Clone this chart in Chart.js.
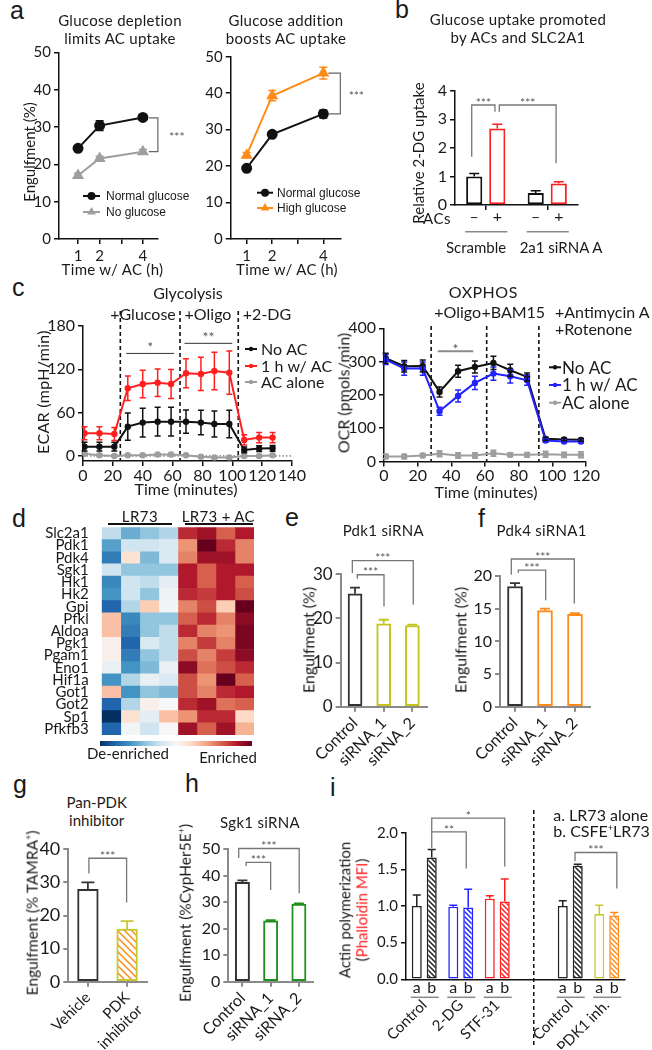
<!DOCTYPE html>
<html>
<head>
<meta charset="utf-8">
<script src="https://cdn.jsdelivr.net/npm/chart.js@4.4.1/dist/chart.umd.min.js"></script>
<style>
  body { margin: 0; background: #fff; }
  #fig { position: relative; width: 652px; height: 1050px; overflow: hidden; background: #fff;
         font-family: Lato, 'Open Sans', sans-serif; color: #1a1a1a; }
  #fig canvas { position: absolute; }
  .t { position: absolute; white-space: nowrap; line-height: 1.2; z-index: 2; }
  .ln { position: absolute; z-index: 2; }
</style>
</head>
<body>
<div id="fig"></div>
<script>
// ---------- data ----------
// a: engulfment time course
const aTimes = [1, 2, 4];
const aTicks = [1, 2, 3, 4];
const aTickLabels = ['1', '2', '', '4'];
const aYTicks = [0, 10, 20, 30, 40, 50];
const aDeplNormal = [24.3, 30.4, 32.6];
const aDeplNormalErr = [0.6, 1.3, 0.5];
const aDeplNone = [17.0, 21.6, 23.4];
const aDeplNoneErr = [0.6, 0.6, 0.6];
const aAddNormal = [19.4, 28.7, 34.3];
const aAddNormalErr = [0.5, 0.6, 1.1];
const aAddHigh = [23.0, 39.3, 45.5];
const aAddHighErr = [0.7, 1.4, 1.6];

// b: 2-DG uptake
const bGroups = ['Scramble', '2a1 siRNA A'];
const bYTicks = [0, 1, 2, 3, 4];
const bNoAC = [1.0, 0.42];
const bNoACErr = [0.1, 0.08];
const bWithAC = [2.68, 0.75];
const bWithACErr = [0.15, 0.06];
const bSigns = ['–', '+'];

// c: seahorse traces
const cEcarTime = [1, 11, 21, 30, 40, 50, 59, 69, 79, 88, 98, 108, 118, 127];
const cEcarNoAC = [12.9, 12.9, 12.9, 40.6, 46.2, 47.5, 47.5, 47.5, 46.2, 44.3, 44.3, 8.3, 10.2, 10.6];
const cEcarNoACErr = [6, 6, 6, 19, 20, 20, 20, 16, 17, 18, 19, 4, 4, 4];
const cEcarAC1h = [31.4, 31.4, 30.5, 93.8, 99.7, 101.5, 99.7, 114.5, 113.6, 117.7, 115.4, 22.2, 25.4, 25.4];
const cEcarAC1hErr = [9, 9, 9, 17, 19, 19, 20, 20, 23, 26, 30, 7, 7, 7];
const cEcarACalone = [3, 1, 0, 1, 1, 2, 2, 1, -1, -2, -2, 0, 0, 1];
const cEcarACaloneErr = [1.5, 1.5, 1.5, 1.5, 1.5, 1.5, 1.5, 1.5, 1.5, 1.5, 1.5, 1.5, 1.5, 1.5];
const cEcarInject = [25, 65, 104];
const cEcarXTicks = [0, 20, 40, 60, 80, 100, 120, 140];
const cEcarYTicks = [0, 60, 120, 180];

const cOcrTime = [1, 12, 23, 33, 44, 54, 65, 75, 85, 96, 107, 117];
const cOcrNoAC = [310, 286, 287, 209, 271, 284, 296, 274, 254, 68, 66, 65];
const cOcrNoACErr = [15, 17, 18, 15, 18, 18, 20, 18, 12, 5, 4, 4];
const cOcrAC1h = [306, 279, 279, 151, 197, 236, 264, 256, 244, 63, 60, 60];
const cOcrAC1hErr = [15, 20, 20, 12, 18, 20, 20, 20, 15, 5, 4, 4];
const cOcrACalone = [15, 15, 18, 23, 18, 18, 25, 20, 20, 22, 20, 20];
const cOcrACaloneErr = [7, 7, 6, 9, 8, 8, 9, 6, 7, 9, 8, 9];
const cOcrInject = [28, 61, 92];
const cOcrXTicks = [0, 20, 40, 60, 80, 100, 120];
const cOcrYTicks = [0, 100, 200, 300, 400];

// d: heatmap (z-scores, columns = replicates)
const dGenes = ['Slc2a1', 'Pdk1', 'Pdk4', 'Sgk1', 'Hk1', 'Hk2', 'Gpi', 'Pfkl', 'Aldoa', 'Pgk1',
                'Pgam1', 'Eno1', 'Hif1a', 'Got1', 'Got2', 'Sp1', 'Pfkfb3'];
const dLR73 = [
  [-0.5, -1.0, -0.8, -0.6], [-1.1, -0.4, -0.4, -0.3], [-1.4, 0.3, -0.9, -0.3], [-0.4, -0.8, -0.8, -0.8],
  [-1.3, -0.4, -0.5, -0.2], [-1.2, -0.4, -0.8, -0.1], [-1.6, -0.6, 0.5, -0.05], [0.6, -1.3, -0.8, -0.8],
  [0.6, -1.4, -0.8, -0.5], [0.1, -1.6, -0.3, -0.5], [0.1, -1.4, -0.8, -0.5], [-0.15, -1.2, -0.9, -0.15],
  [-1.2, -0.6, -0.15, -0.3], [0.6, -1.2, -0.8, -0.9], [-1.6, -0.6, 0.1, 0.0], [-2.0, 0.3, -0.2, 0.6],
  [-1.6, -0.05, -0.4, 0.0]
];
const dLR73AC = [
  [1.5, 1.7, 1.2, 1.6], [0.9, 2.0, 1.5, 1.0], [1.0, 1.7, 1.7, 1.0], [1.6, 1.2, 1.6, 1.6],
  [1.6, 1.2, 1.6, 1.2], [1.5, 1.4, 1.6, 1.3], [1.0, 1.3, 0.5, 2.0], [1.2, 1.5, 1.0, 1.8],
  [1.5, 1.0, 0.9, 1.9], [1.0, 1.4, 1.0, 1.9], [1.3, 1.0, 1.4, 1.8], [1.8, 1.1, 1.3, 1.5],
  [1.3, 0.9, 2.0, 1.2], [1.3, 1.0, 1.5, 1.6], [1.5, 1.7, 1.1, 1.2], [0.9, 1.5, 1.5, 0.4],
  [1.7, 1.2, 1.7, 0.7]
];

// e, f, h: siRNA knockdowns
const siCats = ['Control', 'siRNA_1', 'siRNA_2'];
const eVals = [25.6, 18.8, 18.4];
const eErr = [1.4, 0.9, 0.2];
const eYTicks = [0, 10, 20, 30];
const fVals = [18.4, 14.7, 14.15];
const fErr = [0.5, 0.3, 0.15];
const fYTicks = [0, 5, 10, 15, 20];
const hVals = [37.5, 23.0, 29.3];
const hErr = [0.8, 0.2, 0.3];
const hYTicks = [0, 10, 20, 30, 40, 50];

// g: pan-PDK inhibitor
const gCats = ['Vehicle', ['PDK', 'inhibitor']];
const gVals = [27.9, 15.9];
const gErr = [2.1, 2.4];
const gYTicks = [0, 10, 20, 30, 40];

// i: actin polymerization
const iCats = ['Control', '2-DG', 'STF-31', '', 'Control', 'PDK1 inh.'];
const iAlone = [1.0, 0.99, 1.10, null, 1.0, 0.89];
const iAloneErr = [0.15, 0.02, 0.04, null, 0.07, 0.12];
const iWithAC = [1.66, 0.98, 1.06, null, 1.55, 0.87];
const iWithACErr = [0.11, 0.25, 0.31, null, 0.02, 0.04];
const iYTicks = [0, 0.5, 1.0, 1.5, 2.0];
const iSubs = ['a', 'b'];

// ---------- style ----------
const FONT = "Lato, 'Open Sans', sans-serif";
const NARROW = "'Liberation Sans', Arial, sans-serif";
const INK = '#1a1a1a';
const BLACK = '#111111', GREY = '#9e9e9e', RED = '#ff1f1f', BLUE = '#2323ff',
      ORANGE = '#ff8c1a', OLIVE = '#c4c41c', GREEN = '#1f8f1f', AXGREY = '#8a8a8a';
const rdbuStops = ['#053061', '#2166ac', '#4393c3', '#92c5de', '#d1e5f0', '#f7f7f7',
                   '#fddbc7', '#f4a582', '#d6604d', '#b2182b', '#67001f'];

Chart.defaults.font.family = FONT;
Chart.defaults.font.size = 14;
Chart.defaults.color = INK;

const fig = document.getElementById('fig');

function hex(c) { return [1, 3, 5].map(k => parseInt(c.slice(k, k + 2), 16)); }
function rdbu(v) {
  const t = Math.max(0, Math.min(1, (v + 2) / 4)) * 10;
  const i = Math.min(9, Math.floor(t)), f = t - i;
  const a = hex(rdbuStops[i]), b = hex(rdbuStops[i + 1]);
  return 'rgb(' + a.map((x, k) => Math.round(x + (b[k] - x) * f)).join(',') + ')';
}

function hatch(color, s) {
  s = s || 5;
  const c = document.createElement('canvas');
  c.width = c.height = s;
  const x = c.getContext('2d');
  x.fillStyle = '#fff'; x.fillRect(0, 0, s, s);
  x.strokeStyle = color; x.lineWidth = 1.5;
  x.beginPath();
  x.moveTo(-1, -1); x.lineTo(s + 1, s + 1);
  x.moveTo(-1, s - 1); x.lineTo(1, s + 1);
  x.moveTo(s - 1, -1); x.lineTo(s + 1, 1);
  x.stroke();
  return x.createPattern(c, 'repeat');
}

// text on the page
function txt(html, x, y, o) {
  o = o || {};
  const d = document.createElement('div');
  d.className = 't';
  d.innerHTML = html;
  d.style.left = x + 'px';
  d.style.top = y + 'px';
  d.style.fontSize = (o.size || 15) + 'px';
  d.style.textAlign = 'center';
  if (o.family) d.style.fontFamily = o.family;
  if (o.lh) d.style.lineHeight = o.lh + 'px';
  if (o.ls) d.style.letterSpacing = o.ls + 'px';
  const tx = o.align === 'left' ? '0' : o.align === 'right' ? '-100%' : '-50%';
  d.style.transform = `translate(${tx},-50%)` + (o.rot ? ` rotate(${o.rot}deg)` : '');
  fig.appendChild(d);
}
function hline(x0, x1, y, w, color) {
  const d = document.createElement('div');
  d.className = 'ln';
  d.style.left = x0 + 'px'; d.style.top = (y - w / 2) + 'px';
  d.style.width = (x1 - x0) + 'px'; d.style.height = w + 'px';
  d.style.background = color;
  fig.appendChild(d);
  return d;
}

// canvas placed so that the chart area lands on [l, t, r, b]
function geom(area, pad) {
  const [l, t, r, b] = area, [pl, pt, pr, pb] = pad;
  const left = Math.round(l - pl), top = Math.round(t - pt);
  const w = Math.round(r + pr) - left, h = Math.round(b + pb) - top;
  const cv = document.createElement('canvas');
  cv.width = w; cv.height = h;
  cv.style.left = left + 'px'; cv.style.top = top + 'px';
  cv.style.width = w + 'px'; cv.style.height = h + 'px';
  fig.appendChild(cv);
  return { cv, yW: l - left, xH: top + h - b, pt: t - top, pr: left + w - r };
}

function baseOpts(g, scales, plugins) {
  return {
    responsive: false, animation: false, devicePixelRatio: 1,
    layout: { padding: { left: 0, top: g.pt, right: g.pr, bottom: 0 } },
    scales,
    plugins: Object.assign({ legend: { display: false }, tooltip: { enabled: false } }, plugins)
  };
}

function linAxis(g, horiz, min, max, ticks, st) {
  const o = {
    type: 'linear', min, max,
    afterFit: horiz ? s => { s.height = g.xH; } : s => { s.width = g.yW; },
    afterBuildTicks: s => { s.ticks = ticks.map(v => ({ value: v })); },
    grid: { drawOnChartArea: false, color: st.color, lineWidth: st.lw, tickLength: 5 },
    border: { color: st.color, width: st.lw },
    ticks: { font: { size: st.size }, color: INK, padding: st.pad != null ? st.pad : 3, autoSkip: false, maxRotation: 0 }
  };
  if (st.fmt) o.ticks.callback = st.fmt;
  return o;
}

function catAxis(g, st) {
  return {
    type: 'category', offset: true,
    afterFit: s => { s.height = g.xH; },
    grid: { drawOnChartArea: false, drawTicks: st.ticks !== false, color: st.color, lineWidth: st.lw, tickLength: 5, offset: false },
    border: { color: st.color, width: st.lw },
    ticks: { display: st.labels !== false, font: { size: st.size }, color: INK, padding: st.pad || 2,
             autoSkip: false, minRotation: st.rot || 0, maxRotation: st.rot || 0 }
  };
}

function lineSet(xs, ys, err, color, style, r) {
  return {
    data: xs.map((x, i) => ({ x, y: ys[i] })), err,
    borderColor: color, backgroundColor: color, pointBackgroundColor: color, pointBorderColor: color,
    pointStyle: style, pointRadius: r, borderWidth: 2, tension: 0
  };
}

function stars(ctx, text, x, yc, size, color) {
  ctx.font = `${size}px ${FONT}`;
  ctx.fillStyle = color; ctx.textAlign = 'center'; ctx.textBaseline = 'alphabetic';
  ctx.fillText(text, x, yc + 0.55 * size);
}

function mark(ctx, style, x, y, r) {
  ctx.beginPath();
  if (style === 'triangle') {
    ctx.moveTo(x, y - r); ctx.lineTo(x + r * 0.866, y + r * 0.5); ctx.lineTo(x - r * 0.866, y + r * 0.5); ctx.closePath();
  } else {
    ctx.arc(x, y, r, 0, Math.PI * 2);
  }
  ctx.fill();
}

// ---------- plugins ----------
const errPlugin = {
  id: 'err',
  afterDatasetsDraw(chart, args, o) {
    const ctx = chart.ctx, ys = chart.scales.y;
    chart.data.datasets.forEach((ds, di) => {
      if (!ds.err) return;
      chart.getDatasetMeta(di).data.forEach((el, i) => {
        const raw = ds.data[i];
        const v = raw == null ? null : (typeof raw === 'object' ? raw.y : raw);
        const e = ds.err[i];
        if (v == null || e == null) return;
        const col = Array.isArray(ds.borderColor) ? ds.borderColor[i] : ds.borderColor;
        const top = ys.getPixelForValue(v + e);
        const bot = o.both ? ys.getPixelForValue(v - e) : el.y;
        const cw = (o.cap || 8) / 2;
        ctx.save();
        ctx.strokeStyle = col; ctx.lineWidth = o.lw || 1.5;
        ctx.beginPath();
        ctx.moveTo(el.x, bot); ctx.lineTo(el.x, top);
        ctx.moveTo(el.x - cw, top); ctx.lineTo(el.x + cw, top);
        if (o.both) { ctx.moveTo(el.x - cw, bot); ctx.lineTo(el.x + cw, bot); }
        ctx.stroke();
        ctx.restore();
      });
    });
  }
};

const brkPlugin = {
  id: 'brk',
  afterDraw(chart, args, o) {
    if (!o.items) return;
    const ctx = chart.ctx, xs = chart.scales.x, ys = chart.scales.y;
    const px = (ref, dx) => chart.getDatasetMeta(ref[0]).data[ref[1]].x + (dx || 0);
    ctx.save();
    o.items.forEach(b => {
      ctx.strokeStyle = o.color || '#666';
      ctx.lineWidth = o.lw || 1.3;
      const y = ys.getPixelForValue(b.y);
      let mx, my;
      ctx.beginPath();
      if (b.vx != null) {
        const xp = xs.getPixelForValue(b.vx), y2 = ys.getPixelForValue(b.y2);
        ctx.moveTo(xp + b.dx0, y); ctx.lineTo(xp + b.dx1, y); ctx.lineTo(xp + b.dx1, y2); ctx.lineTo(xp + b.dx0, y2);
        mx = xp + b.tdx; my = (y + y2) / 2;
      } else if (b.x0 != null) {
        const x0 = xs.getPixelForValue(b.x0), x1 = xs.getPixelForValue(b.x1);
        ctx.moveTo(x0, y); ctx.lineTo(x1, y);
        mx = (x0 + x1) / 2; my = y - (b.ty || 5);
      } else {
        const xa = px(b.a, b.dxa), xb = px(b.b, b.dxb);
        ctx.moveTo(xa, ys.getPixelForValue(b.ya)); ctx.lineTo(xa, y);
        ctx.lineTo(xb, y); ctx.lineTo(xb, ys.getPixelForValue(b.yb));
        mx = (xa + xb) / 2; my = y - (b.ty || 5);
      }
      ctx.stroke();
      stars(ctx, b.text, mx, my, o.size || 12, o.textColor || '#555');
    });
    ctx.restore();
  }
};

const vlPlugin = {
  id: 'vl',
  beforeDatasetsDraw(chart, args, o) {
    const ctx = chart.ctx, oy = chart.canvas.offsetTop, a = chart.chartArea;
    ctx.save();
    if (o.xs) {
      ctx.strokeStyle = o.color || BLACK; ctx.lineWidth = o.lw || 1.5; ctx.setLineDash(o.dash || [4, 3]);
      o.xs.forEach(v => {
        const x = chart.scales.x.getPixelForValue(v);
        ctx.beginPath();
        ctx.moveTo(x, o.y0 - oy);
        ctx.lineTo(x, o.y1 != null ? o.y1 - oy : a.bottom);
        ctx.stroke();
      });
    }
    if (o.zero) {
      const y = chart.scales.y.getPixelForValue(0);
      ctx.strokeStyle = '#444'; ctx.lineWidth = 1; ctx.setLineDash([1.5, 2]);
      ctx.beginPath(); ctx.moveTo(a.left, y); ctx.lineTo(a.right, y); ctx.stroke();
    }
    ctx.restore();
  }
};

const lgPlugin = {
  id: 'lg',
  afterDraw(chart, args, o) {
    if (!o.items) return;
    const ctx = chart.ctx, ox = chart.canvas.offsetLeft, oy = chart.canvas.offsetTop;
    o.items.forEach(it => {
      const y = it.y - oy;
      ctx.save();
      ctx.strokeStyle = it.color; ctx.fillStyle = it.color; ctx.lineWidth = it.lw || 2;
      ctx.beginPath(); ctx.moveTo(it.x0 - ox, y); ctx.lineTo(it.x1 - ox, y); ctx.stroke();
      mark(ctx, it.style, (it.x0 + it.x1) / 2 - ox, y, it.r);
      ctx.font = it.font; ctx.fillStyle = INK; ctx.textAlign = 'left'; ctx.textBaseline = 'middle';
      ctx.fillText(it.text, it.tx - ox, y + 1);
      ctx.restore();
    });
  }
};

const subPlugin = {
  id: 'sub',
  afterDraw(chart, args, o) {
    if (!o.labels) return;
    const ctx = chart.ctx, oy = chart.canvas.offsetTop;
    ctx.save();
    ctx.font = o.font; ctx.textAlign = 'center'; ctx.textBaseline = 'middle';
    chart.data.labels.forEach((lab, i) => {
      let lo = Infinity, hi = -Infinity;
      chart.data.datasets.forEach((ds, di) => {
        if (ds.data[i] == null) return;
        const el = chart.getDatasetMeta(di).data[i];
        ctx.fillStyle = INK;
        ctx.fillText(o.labels[di], el.x, o.y - oy);
        lo = Math.min(lo, el.x - el.width / 2); hi = Math.max(hi, el.x + el.width / 2);
      });
      if (hi > lo) {
        ctx.strokeStyle = '#8a8a8a'; ctx.lineWidth = 1.5;
        ctx.beginPath(); ctx.moveTo(lo - 1, o.uly - oy); ctx.lineTo(hi + 2, o.uly - oy); ctx.stroke();
      }
    });
    ctx.restore();
  }
};

Chart.register(errPlugin, brkPlugin, vlPlugin, lgPlugin, subPlugin);

const AX = { color: BLACK, lw: 1.5 };

// ---------- a (left) ----------
{
  const g = geom([59, 52.5, 158, 239], [50, 15, 45, 24]);
  new Chart(g.cv, {
    type: 'line',
    data: { datasets: [
      lineSet(aTimes, aDeplNone, aDeplNoneErr, GREY, 'triangle', 5),
      lineSet(aTimes, aDeplNormal, aDeplNormalErr, BLACK, 'circle', 4.5)
    ] },
    options: baseOpts(g, {
      x: linAxis(g, true, 0.12, 4.7, aTicks, Object.assign({ size: 15, fmt: v => aTickLabels[aTicks.indexOf(v)] }, AX)),
      y: linAxis(g, false, 0, 50, aYTicks, Object.assign({ size: 15 }, AX))
    }, {
      err: { both: true, cap: 8, lw: 1.5 },
      brk: { color: '#666', lw: 1.2, size: 12, items: [{ vx: 4, dx0: 6, dx1: 15, y: 32.5, y2: 23.4, text: '***', tdx: 34 }] },
      lg: { items: [
        { x0: 83, x1: 100, y: 196, color: BLACK, style: 'circle', r: 4, text: 'Normal glucose', tx: 106, font: `12px ${NARROW}` },
        { x0: 83, x1: 100, y: 212, color: GREY, style: 'triangle', r: 5, text: 'No glucose', tx: 106, font: `12px ${NARROW}` }
      ] }
    })
  });
}

// ---------- a (right) ----------
{
  const g = geom([230.7, 56.7, 340.7, 239], [30, 30, 30, 24]);
  new Chart(g.cv, {
    type: 'line',
    data: { datasets: [
      lineSet(aTimes, aAddNormal, aAddNormalErr, BLACK, 'circle', 4.5),
      lineSet(aTimes, aAddHigh, aAddHighErr, ORANGE, 'triangle', 5)
    ] },
    options: baseOpts(g, {
      x: linAxis(g, true, 0.375, 4.68, aTicks, Object.assign({ size: 15, fmt: v => aTickLabels[aTicks.indexOf(v)] }, AX)),
      y: linAxis(g, false, 0, 50, aYTicks, Object.assign({ size: 15 }, AX))
    }, {
      err: { both: true, cap: 8, lw: 1.5 },
      brk: { color: '#666', lw: 1.2, size: 12, items: [{ vx: 4, dx0: 5, dx1: 17, y: 45.5, y2: 34.3, text: '***', tdx: 33 }] },
      lg: { items: [
        { x0: 257, x1: 273, y: 192.7, color: BLACK, style: 'circle', r: 4, text: 'Normal glucose', tx: 277, font: `12px ${NARROW}` },
        { x0: 257, x1: 273, y: 208, color: ORANGE, style: 'triangle', r: 5, text: 'High glucose', tx: 277, font: `12px ${NARROW}` }
      ] }
    })
  });
}

// ---------- b ----------
{
  const g = geom([455, 90.7, 578, 205], [30, 20, 20, 50]);
  new Chart(g.cv, {
    type: 'bar',
    data: { labels: bGroups, datasets: [
      { data: bNoAC, err: bNoACErr, borderColor: BLACK, backgroundColor: '#fff', borderWidth: 2, borderSkipped: false, categoryPercentage: 0.75, barPercentage: 0.7 },
      { data: bWithAC, err: bWithACErr, borderColor: RED, backgroundColor: '#fff', borderWidth: 2, borderSkipped: false, categoryPercentage: 0.75, barPercentage: 0.7 }
    ] },
    options: baseOpts(g, {
      x: catAxis(g, Object.assign({ size: 14, labels: false }, AX)),
      y: linAxis(g, false, 0, 4, bYTicks, Object.assign({ size: 16 }, AX))
    }, {
      err: { cap: 10, lw: 1.5 },
      brk: { color: '#777', lw: 1.3, size: 12, items: [
        { a: [0, 0], b: [1, 0], dxa: -2.5, dxb: -2.3, y: 3.5, ya: 1.69, yb: 3.26, text: '***' },
        { a: [1, 0], b: [1, 1], dxa: 2, dxb: -2.7, y: 3.5, ya: 3.26, yb: 1.46, text: '***' }
      ] },
      sub: { labels: bSigns, y: 217, uly: 231.7, font: `16px ${FONT}` }
    })
  });
}

// ---------- c (ECAR) ----------
{
  const g = geom([83, 326, 292, 461], [45, 20, 50, 26]);
  new Chart(g.cv, {
    type: 'line',
    data: { datasets: [
      lineSet(cEcarTime, cEcarACalone, cEcarACaloneErr, GREY, 'circle', 2.2),
      lineSet(cEcarTime, cEcarNoAC, cEcarNoACErr, BLACK, 'circle', 2.2),
      lineSet(cEcarTime, cEcarAC1h, cEcarAC1hErr, RED, 'circle', 2.2)
    ] },
    options: baseOpts(g, {
      x: linAxis(g, true, 0, 140, cEcarXTicks, Object.assign({ size: 16, pad: 0 }, AX)),
      y: linAxis(g, false, -7, 180, cEcarYTicks, Object.assign({ size: 16 }, AX))
    }, {
      err: { both: true, cap: 6, lw: 1.5 },
      vl: { xs: cEcarInject, y0: 311, lw: 1.6, dash: [4, 3], zero: true },
      brk: { color: '#333', lw: 1, size: 14, items: [
        { x0: 29, x1: 61, y: 142, text: '*', ty: 9 },
        { x0: 68, x1: 100, y: 156, text: '**', ty: 9 }
      ] },
      lg: { items: [
        { x0: 245, x1: 257, y: 349, color: BLACK, style: 'circle', r: 2.2, text: 'No AC', tx: 261, font: `16px ${FONT}` },
        { x0: 245, x1: 257, y: 366, color: RED, style: 'circle', r: 2.2, text: '1 h w/ AC', tx: 261, font: `16px ${FONT}` },
        { x0: 245, x1: 257, y: 382, color: GREY, style: 'circle', r: 2.2, text: 'AC alone', tx: 261, font: `16px ${FONT}` }
      ] }
    })
  });
}

// ---------- c (OCR) ----------
{
  const g = geom([384, 328.3, 586, 461.5], [45, 16, 66, 26]);
  new Chart(g.cv, {
    type: 'line',
    data: { datasets: [
      lineSet(cOcrTime, cOcrACalone, cOcrACaloneErr, GREY, 'circle', 2.2),
      lineSet(cOcrTime, cOcrAC1h, cOcrAC1hErr, BLUE, 'circle', 2.2),
      lineSet(cOcrTime, cOcrNoAC, cOcrNoACErr, BLACK, 'circle', 2.2)
    ] },
    options: baseOpts(g, {
      x: linAxis(g, true, 0, 120, cOcrXTicks, Object.assign({ size: 16, pad: 0 }, AX)),
      y: linAxis(g, false, 0, 400, cOcrYTicks, Object.assign({ size: 16 }, AX))
    }, {
      err: { both: true, cap: 6, lw: 1.5 },
      vl: { xs: cOcrInject, y0: 326, lw: 1.6, dash: [4, 3] },
      brk: { color: '#8a8a8a', lw: 2, size: 14, items: [{ x0: 32, x1: 53, y: 331, text: '*', ty: 5 }] },
      lg: { items: [
        { x0: 549, x1: 561, y: 367.3, color: BLACK, style: 'circle', r: 2.2, text: 'No AC', tx: 562, font: `17px ${FONT}` },
        { x0: 549, x1: 561, y: 385, color: BLUE, style: 'circle', r: 2.2, text: '1 h w/ AC', tx: 562, font: `17px ${FONT}` },
        { x0: 549, x1: 561, y: 402.7, color: GREY, style: 'circle', r: 2.2, text: 'AC alone', tx: 562, font: `17px ${FONT}` }
      ] }
    })
  });
}

// ---------- d (heatmap as stacked bars) ----------
{
  const g = geom([101.7, 527.3, 254, 735], [62, 16, 2, 16]);
  const cols = [0, 1, 2, 3, 4, 5, 6, 7];
  new Chart(g.cv, {
    type: 'bar',
    data: {
      labels: dGenes,
      datasets: cols.map(j => ({
        data: dGenes.map(() => 1),
        backgroundColor: dGenes.map((_, r) => rdbu(j < 4 ? dLR73[r][j] : dLR73AC[r][j - 4])),
        borderWidth: 0, categoryPercentage: 1, barPercentage: 1
      }))
    },
    options: {
      indexAxis: 'y', responsive: false, animation: false, devicePixelRatio: 1,
      layout: { padding: { left: 0, top: g.pt, right: g.pr, bottom: g.xH } },
      scales: {
        x: { display: false, stacked: true, min: 0, max: 8 },
        y: { stacked: true, afterFit: s => { s.width = g.yW; }, grid: { display: false }, border: { display: false },
             ticks: { font: { size: 15 }, color: INK, padding: 5, autoSkip: false } }
      },
      plugins: { legend: { display: false }, tooltip: { enabled: false } }
    }
  });
}

// ---------- single-series bar panels ----------
function simpleBars(area, pad, cats, vals, err, colors, fills, yMax, yTicks, st, brk) {
  const g = geom(area, pad);
  new Chart(g.cv, {
    type: 'bar',
    data: { labels: cats, datasets: [
      { data: vals, err, borderColor: colors, backgroundColor: fills, borderWidth: 2, borderSkipped: false, barThickness: st.bw }
    ] },
    options: baseOpts(g, {
      x: catAxis(g, { size: st.xsize, color: st.axColor, lw: 2, rot: 45, pad: st.xpad != null ? st.xpad : 2 }),
      y: linAxis(g, false, 0, yMax, yTicks, { size: st.ysize, color: st.axColor, lw: 2 })
    }, {
      err: { cap: st.cap, lw: 1.8 },
      brk: { color: '#777', lw: 1.3, size: 12, items: brk }
    })
  });
}

// e
simpleBars([340.7, 574.3, 426.7, 706.7], [50, 30, 12, 62], siCats, eVals, eErr,
  ['#333', OLIVE, OLIVE], ['#fff', '#fff', '#fff'], 30, eYTicks,
  { bw: 14, cap: 10, xsize: 16, ysize: 17, axColor: AXGREY }, [
    { a: [0, 0], b: [0, 2], dxa: -2.7, dxb: 0.9, y: 33.1, ya: 30.3, yb: 23.1, text: '***' },
    { a: [0, 0], b: [0, 1], dxa: 2.3, dxb: 0.3, y: 29.9, ya: 29.0, yb: 22.7, text: '***' }
  ]);

// f
simpleBars([500, 576, 590, 706.7], [50, 30, 12, 62], siCats, fVals, fErr,
  ['#333', ORANGE, ORANGE], ['#fff', '#fff', '#fff'], 20, fYTicks,
  { bw: 15, cap: 10, xsize: 16, ysize: 16, axColor: AXGREY }, [
    { a: [0, 0], b: [0, 2], dxa: -3.7, dxb: -0.7, y: 22.6, ya: 20.2, yb: 15.8, text: '***' },
    { a: [0, 0], b: [0, 1], dxa: 3.3, dxb: 0.7, y: 20.9, ya: 20.5, yb: 16.3, text: '***' }
  ]);

// g
simpleBars([68.3, 849.3, 146.7, 981.7], [45, 20, 15, 68], gCats, gVals, gErr,
  ['#333', '#c8c832'], ['#fff', hatch(ORANGE, 7)], 40, gYTicks,
  { bw: 20.7, cap: 13, xsize: 15, xpad: 0, ysize: 18, axColor: AXGREY }, [
    { a: [0, 0], b: [0, 1], dxa: 1, dxb: -0.5, y: 37.3, ya: 32.7, yb: 23.9, text: '***' }
  ]);

// h
simpleBars([228.3, 849.3, 313, 981.7], [45, 20, 12, 62], siCats, hVals, hErr,
  ['#333', GREEN, GREEN], ['#fff', '#fff', '#fff'], 50, hYTicks,
  { bw: 14.3, cap: 10, xsize: 16, ysize: 16, axColor: AXGREY }, [
    { a: [0, 0], b: [0, 2], dxa: -3.7, dxb: 0.3, y: 50.3, ya: 46.7, yb: 33.4, text: '***' },
    { a: [0, 0], b: [0, 1], dxa: 3.7, dxb: 0, y: 45.1, ya: 43.7, yb: 34.6, text: '***' }
  ]);

// ---------- i ----------
{
  const g = geom([406, 832.7, 625, 979.3], [45, 35, 25, 70]);
  const colA = ['#222', BLUE, RED, '#000', '#222', '#c8c832'];
  const colB = ['#222', BLUE, RED, '#000', '#222', ORANGE];
  new Chart(g.cv, {
    type: 'bar',
    data: { labels: iCats, datasets: [
      { data: iAlone, err: iAloneErr, borderColor: colA, backgroundColor: '#fff', borderWidth: 1.6, borderSkipped: false, categoryPercentage: 0.82, barPercentage: 0.67 },
      { data: iWithAC, err: iWithACErr, borderColor: colB, backgroundColor: colB.map(c => hatch(c, 5)), borderWidth: 1.6, borderSkipped: false, categoryPercentage: 0.82, barPercentage: 0.67 }
    ] },
    options: baseOpts(g, {
      x: catAxis(g, Object.assign({ size: 15, rot: 45, pad: 17, ticks: false }, AX)),
      y: linAxis(g, false, 0, 2, iYTicks, Object.assign({ size: 15, fmt: v => v.toFixed(1) }, AX))
    }, {
      err: { cap: 8, lw: 1.5 },
      vl: { xs: [3], y0: 810, y1: 1047, lw: 1.5, dash: [4, 3] },
      brk: { color: '#777', lw: 1.3, size: 12, items: [
        { a: [1, 0], b: [1, 2], dxa: 0, dxb: 0, y: 2.20, ya: 2.01, yb: 1.54, text: '*' },
        { a: [1, 0], b: [1, 1], dxa: 0, dxb: -2, y: 2.01, ya: 1.79, yb: 1.51, text: '**' },
        { a: [1, 4], b: [1, 5], dxa: -2.7, dxb: 2.6, y: 1.73, ya: 1.61, yb: 1.24, text: '***' }
      ] },
      sub: { labels: iSubs, y: 988.3, uly: 997.3, font: `16px ${FONT}` }
    })
  });
}

// ---------- page text ----------
const LET = { size: 25, family: "'Liberation Sans', Arial, sans-serif", align: 'left' };
txt('a', 10, 10, LET); txt('b', 395, 8.5, LET); txt('c', 12, 287, LET); txt('d', 12, 518, LET);
txt('e', 285, 517, LET); txt('f', 478, 518, LET); txt('g', 13, 784, LET); txt('h', 185, 783, LET);
txt('i', 330, 787, LET);

// a
txt('Glucose depletion<br>limits AC uptake', 120, 29, { size: 15, lh: 18, ls: 0.3 });
txt('Glucose addition<br>boosts AC uptake', 286, 29, { size: 15, lh: 18, ls: 0.3 });
txt('Engulfment (%)', 29, 152, { size: 15, rot: -90 });
txt('Time w/ AC (h)', 112.5, 269.3, { size: 15, ls: 0.3 });
txt('Time w/ AC (h)', 287, 269.3, { size: 15, ls: 0.3 });

// b
txt('Glucose uptake promoted<br>by ACs and SLC2A1', 518, 28, { size: 15, lh: 18, ls: 0.3 });
txt('Relative 2-DG uptake', 418, 153, { size: 15, rot: -90 });
txt('ACs', 451, 218.3, { size: 15, align: 'right', ls: 0.5 });
txt('Scramble', 476, 246.7, { size: 15 });
txt('2a1 siRNA A', 561, 246.7, { size: 15 });

// c
txt('Glycolysis', 188, 293, { size: 16 });
txt('+Glucose', 143, 314, { size: 16 });
txt('+Oligo', 208, 314, { size: 16 });
txt('+2-DG', 267, 314, { size: 16 });
txt('ECAR (mpH/min)', 43.3, 392, { size: 16, rot: -90, ls: 0.3 });
txt('Time (minutes)', 186, 489, { size: 16 });
txt('OXPHOS', 483.3, 291.7, { size: 16, ls: 0.5 });
txt('+Oligo', 457.7, 311.7, { size: 16 });
txt('+BAM15', 513.3, 311.7, { size: 16 });
txt('+Antimycin A', 555, 311.7, { size: 16, align: 'left' });
txt('+Rotenone', 555, 329.3, { size: 16, align: 'left' });
txt('OCR (pmols/min)', 343.3, 393, { size: 16, rot: -90 });
txt('Time (minutes)', 486, 492, { size: 16 });

// d
txt('LR73', 140, 515.5, { size: 15, ls: 0.5 });
txt('LR73 + AC', 218.3, 515.5, { size: 15, ls: 0.3 });
hline(108, 172, 523.8, 1.5, BLACK);
hline(185, 253, 523.8, 1.5, BLACK);
hline(100, 252, 743.5, 5, '#fff').style.background = 'linear-gradient(to right,' + rdbuStops.join(',') + ')';
txt('De-enriched', 128, 752.7, { size: 15 });
txt('Enriched', 228, 757.3, { size: 15 });

// e, f
txt('Pdk1 siRNA', 383.3, 530, { size: 15, ls: 0.3 });
txt('Engulfment (%)', 308.3, 640, { size: 16, rot: -90 });
txt('Pdk4 siRNA1', 541.7, 530, { size: 15, ls: 0.3 });
txt('Engulfment (%)', 460, 640, { size: 16, rot: -90 });

// g, h
txt('Pan-PDK<br>inhibitor', 96.7, 811, { size: 15, lh: 18 });
txt('Engulfment (% TAMRA<sup style="font-size:9px">+</sup>)', 31.7, 913, { size: 15.5, rot: -90 });
txt('Sgk1 siRNA', 260, 821.7, { size: 15, ls: 0.3 });
txt('Engulfment (%CypHer5E<sup style="font-size:9px">+</sup>)', 185, 913, { size: 15.5, rot: -90 });

// i
txt('Actin polymerization<br>(<span style="color:#ff1f1f">Phalloidin MFI</span>)', 353.3, 910, { size: 15, lh: 16.7, rot: -90 });
txt('a. LR73 alone', 553.3, 815, { size: 16, align: 'left' });
txt('b. CSFE<sup style="font-size:9px">+</sup>LR73', 553.3, 831, { size: 16, align: 'left' });
</script>
</body>
</html>
